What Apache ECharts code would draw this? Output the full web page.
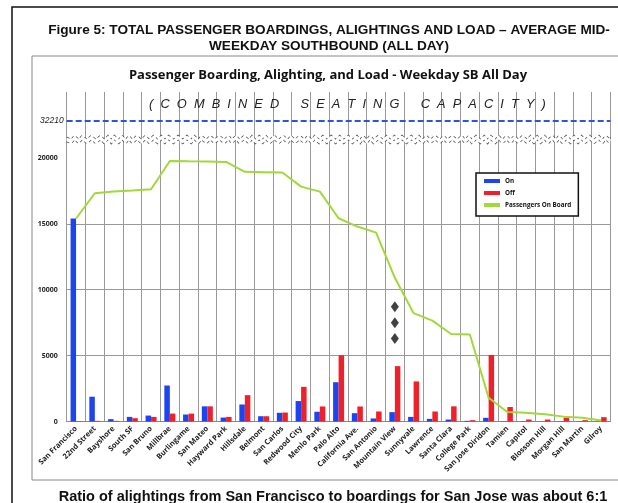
<!DOCTYPE html>
<html>
<head>
<meta charset="utf-8">
<script src="https://cdn.jsdelivr.net/npm/echarts@6.0.0/dist/echarts.min.js"></script>
<style>
  html, body { margin: 0; padding: 0; background: #ffffff; }
  #chart { width: 618px; height: 503px; }
</style>
</head>
<body>
<div id="chart"></div>
<script>
// ---- data ----
var stations = ['San Francisco','22nd Street','Bayshore','South SF','San Bruno','Millbrae','Burlingame','San Mateo','Hayward Park','Hillsdale','Belmont','San Carlos','Redwood City','Menlo Park','Palo Alto','California Ave.','San Antonio','Mountain View','Sunnyvale','Lawrence','Santa Clara','College Park','San Jose Diridon','Tamien','Capitol','Blossom Hill','Morgan Hill','San Martin','Gilroy'];
var onValues  = [15400, 1880, 180, 350, 450, 2730, 530, 1150, 300, 1290, 400, 660, 1550, 740, 2980, 630, 230, 710, 350, 200, 150, 50, 280, 20, 20, 10, 20, 20, 10];
var offValues = [30, 50, 50, 250, 350, 600, 600, 1150, 350, 2000, 400, 680, 2630, 1140, 5030, 1140, 760, 4200, 3040, 760, 1150, 100, 5050, 1100, 150, 150, 300, 100, 330];
var loadValues = [15400, 17320, 17450, 17520, 17620, 19770, 19740, 19720, 19690, 18940, 18920, 18890, 17820, 17440, 15420, 14790, 14330, 10900, 8220, 7650, 6640, 6600, 1800, 720, 670, 550, 370, 280, 80];
var seatingCapacity = 32210;
var yTickValues = [0, 5000, 10000, 15000, 20000];
var diamondStation = 'Mountain View';
var diamondValues = [8700, 7500, 6300];

var chart = echarts.init(document.getElementById('chart'), null, { renderer: 'canvas' });
var narrow = "'Liberation Sans Narrow', 'Open Sans', sans-serif";

var option = {
  backgroundColor: '#ffffff',
  animation: false,
  title: [
    { text: 'Figure 5: TOTAL PASSENGER BOARDINGS, ALIGHTINGS AND LOAD – AVERAGE MID-\nWEEKDAY SOUTHBOUND (ALL DAY)',
      left: 324, top: 17, textAlign: 'center',
      textStyle: { fontFamily: "'Liberation Sans', Arial, sans-serif", fontSize: 13.6, fontWeight: 'bold', color: '#111', lineHeight: 16 } },
    { text: 'Passenger Boarding, Alighting, and Load - Weekday SB All Day',
      left: 323, top: 64, textAlign: 'center',
      textStyle: { fontFamily: "'Open Sans', sans-serif", fontSize: 13, fontWeight: 'bold', color: '#111' } },
    { text: 'Ratio of alightings from San Francisco to boardings for San Jose was about 6:1',
      left: 328, top: 484, textAlign: 'center',
      textStyle: { fontFamily: "'Liberation Sans', Arial, sans-serif", fontSize: 14.5, fontWeight: 'bold', color: '#111' } }
  ],
  graphic: [
    { type: 'rect', z: -10, shape: { x: 12, y: 7, width: 700, height: 600 }, style: { fill: 'none', stroke: '#111', lineWidth: 1.5 } },
    { type: 'rect', z: -10, shape: { x: 32, y: 56, width: 700, height: 424 }, style: { fill: 'none', stroke: '#888', lineWidth: 1 } }
  ],
  legend: {
    orient: 'vertical',
    left: 476, top: 173,
    padding: [5, 7, 8, 8],
    itemGap: 6,
    itemWidth: 16, itemHeight: 4,
    borderColor: '#111', borderWidth: 1.5,
    backgroundColor: '#fff',
    icon: 'rect',
    textStyle: { fontFamily: narrow, fontSize: 6.3, fontWeight: 'bold', color: '#111' },
    data: ['On', 'Off', 'Passengers On Board']
  },
  grid: { left: 66.7, right: 7.5, top: 92, bottom: 81.5 },
  xAxis: {
    type: 'category',
    data: stations,
    boundaryGap: true,
    axisLine: { show: true, lineStyle: { color: '#888', width: 1 } },
    axisTick: { show: false },
    splitLine: { show: true, interval: 0, lineStyle: { color: '#999', width: 1 } },
    axisLabel: { interval: 0, rotate: 45, margin: 6, fontFamily: narrow, fontSize: 7.5, fontWeight: 'bold', color: '#222' }
  },
  yAxis: {
    type: 'value',
    min: 0, max: 34400, interval: 5000,
    breaks: [{ start: 21300, end: 31000, gap: '1.2%' }],
    breakArea: {
      show: true,
      itemStyle: { color: '#fff', borderColor: '#444', borderWidth: 1.4, opacity: 1 },
      zigzagAmplitude: 2,
      zigzagMinSpan: 3,
      zigzagMaxSpan: 5,
      expandOnClick: false
    },
    axisLine: { show: false },
    axisTick: { show: false, customValues: yTickValues },
    splitLine: { show: true, showMaxLine: false, lineStyle: { color: '#999', width: 1 } },
    axisLabel: {
      customValues: yTickValues,
      margin: 9, fontFamily: narrow, fontSize: 7, fontWeight: 'bold', color: '#222',
      formatter: function (v) { return yTickValues.indexOf(v) >= 0 ? String(v) : ''; }
    }
  },
  series: [
    { name: 'On', type: 'bar', data: onValues, barWidth: 5.5, barGap: '0%',
      itemStyle: { color: '#1d44ee' },
      markLine: {
        silent: true, symbol: ['none', 'none'],
        data: [
          { yAxis: seatingCapacity,
            lineStyle: { color: '#2b55e0', width: 2, type: [6, 3] },
            label: { position: 'start', formatter: String(seatingCapacity), distance: 3,
                     fontFamily: "'Liberation Sans', Arial, sans-serif", fontStyle: 'italic', fontSize: 8.5, color: '#222' } },
          { yAxis: seatingCapacity,
            lineStyle: { color: 'rgba(0,0,0,0)', width: 0 },
            label: { show: true, position: 'middle', distance: 10,
                     formatter: '     (  C  O  M  B  I  N  E  D      S  E  A  T  I  N  G      C  A  P  A  C  I  T  Y  )',
                     fontFamily: "'Liberation Sans', Arial, sans-serif", fontStyle: 'italic', fontSize: 12.8, color: '#222' } }
        ]
      }
    },
    { name: 'Off', type: 'bar', data: offValues, barWidth: 5.5, barGap: '0%',
      itemStyle: { color: '#f0202a' } },
    { name: 'Passengers On Board', type: 'line', data: loadValues, showSymbol: false,
      itemStyle: { color: '#a2d83a' },
      lineStyle: { color: '#a2d83a', width: 2 }, z: 5 },
    { name: 'marks', type: 'scatter', symbol: 'diamond', symbolSize: [8, 11],
      itemStyle: { color: '#111' },
      data: diamondValues.map(function (v) { return [diamondStation, v]; }), z: 6 }
  ]
};
chart.setOption(option);
</script>
</body>
</html>
